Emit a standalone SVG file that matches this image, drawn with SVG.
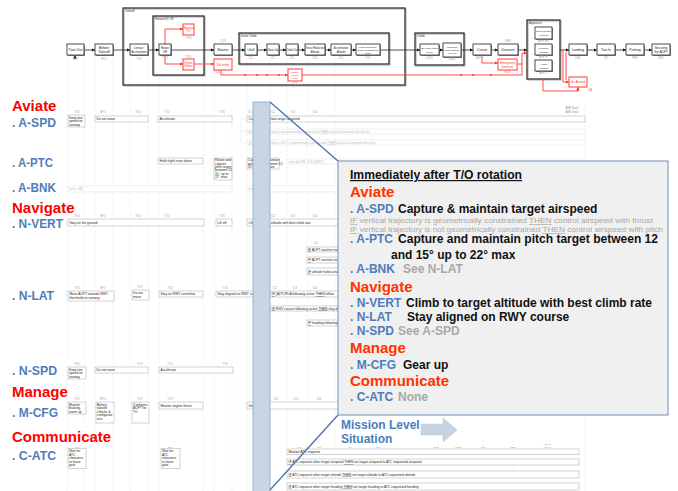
<svg xmlns="http://www.w3.org/2000/svg" width="678" height="491" viewBox="0 0 678 491">
<defs>
<style>
text{font-family:"Liberation Sans",Arial,sans-serif}
.sh{fill:#8a8a8a}
.bx{fill:#fff;stroke:#222;stroke-width:0.8}
.rb{fill:#fff;stroke:#ff3b3b;stroke-width:1}
.fr{fill:none;stroke:#333;stroke-width:1.3}
.frs{fill:none;stroke:#aaa;stroke-width:1}
.bt{font-size:3.6px;fill:#222;text-anchor:middle}
.bb{font-size:4.6px;fill:#111;text-anchor:middle;font-weight:bold}
.rt{font-size:3.6px;fill:#ff3030;text-anchor:middle}
.lb{font-size:2.8px;fill:#999;text-anchor:middle}
.lbs{font-size:2.4px;fill:#999;text-anchor:middle}
.fl{font-size:3px;fill:#333}
.grid{stroke:#dcdcdc;stroke-width:0.5;stroke-dasharray:2 2;fill:none}
.cb{fill:#fff;stroke:#b5b5b5;stroke-width:0.6}
.fb{fill:#fff;stroke:#dedede;stroke-width:0.5}
.ct{font-size:3.3px;fill:#222}
.cf{font-size:3.3px;fill:#bbb}
.blk{stroke:#222;stroke-width:0.8;fill:none}
.red{stroke:#ff4a4a;stroke-width:1;fill:none}
.cat{font-size:15px;font-weight:bold;fill:#ff0000}
.sub{font-size:13.5px;font-weight:bold;fill:#4f7cba}
.ccat{font-size:15px;font-weight:bold;fill:#ff3300}
.csub{font-size:12px;font-weight:bold;fill:#4f7cba}
.cmain{font-size:12px;font-weight:bold;fill:#111}
.cgray{font-size:12px;font-weight:bold;fill:#a8a8a8}
.cif{font-size:7px;fill:#a8a8a8}
</style>
<marker id="ab" viewBox="0 0 6 6" refX="6" refY="3" markerWidth="3.5" markerHeight="3.5" markerUnits="userSpaceOnUse" orient="auto"><path d="M0,0L6,3L0,6z" fill="#111"/></marker>
<marker id="ar" viewBox="0 0 6 6" refX="6" refY="3" markerWidth="3.5" markerHeight="3.5" markerUnits="userSpaceOnUse" orient="auto"><path d="M0,0L6,3L0,6z" fill="#ff3030"/></marker>
</defs>
<rect width="678" height="491" fill="#fff"/>

<g id="gridlines">
<path class="grid" d="M67,58V491M84,58V491M95,58V491M113,58V491M130,58V491M148,58V491M159,58V491M203,58V491M214,58V491M232,58V491M247,58V491M270,58V491M287,58V491M307,58V491M335,58V491M438,440V491M458,440V491M483,440V491M513,440V491M547,440V491M585,105V491"/>
</g>

<g id="frames">
<rect class="frs" x="124" y="9" width="282" height="77"/>
<rect class="fr" x="123" y="8" width="282" height="77"/>
<text class="fl" x="125" y="12">Takeoff</text>
<rect class="frs" x="154" y="17" width="51" height="59"/>
<rect class="fr" x="153" y="16" width="51" height="59"/>
<text class="fl" x="155" y="19.5">Rotate/Lift Off</text>
<rect class="frs" x="240" y="34" width="150" height="31"/>
<rect class="fr" x="239" y="33" width="150" height="31"/>
<text class="fl" x="241" y="36.5">Initial Climb</text>
<rect class="frs" x="416" y="34" width="49" height="32"/>
<rect class="fr" x="415" y="33" width="49" height="32"/>
<text class="fl" x="417" y="36.5">Climb</text>
<rect class="frs" x="528" y="21" width="33" height="59"/>
<rect class="fr" x="527" y="20" width="33" height="59"/>
<text class="fl" x="529" y="23.5">Approach</text>
</g>

<g id="flow-connectors">
<path class="blk" marker-end="url(#ab)" d="M84,50H95"/>
<path class="blk" marker-end="url(#ab)" d="M113,50H130"/>
<path class="blk" marker-end="url(#ab)" d="M148,50H159"/>
<path class="blk" marker-end="url(#ab)" d="M171,50H214"/>
<path class="blk" marker-end="url(#ab)" d="M232,50H245"/>
<path class="blk" marker-end="url(#ab)" d="M257,50H267"/>
<path class="blk" marker-end="url(#ab)" d="M279,50H286"/>
<path class="blk" marker-end="url(#ab)" d="M298,50H305"/>
<path class="blk" marker-end="url(#ab)" d="M325,50H331"/>
<path class="blk" marker-end="url(#ab)" d="M351,50H356"/>
<path class="blk" marker-end="url(#ab)" d="M380,50H420"/>
<path class="blk" marker-end="url(#ab)" d="M439,50H443"/>
<path class="blk" marker-end="url(#ab)" d="M461,50H473"/>
<path class="blk" marker-end="url(#ab)" d="M491,50H498"/>
<path class="blk" marker-end="url(#ab)" d="M518,50H527"/>
<path class="blk" marker-end="url(#ab)" d="M560,50H569"/>
<path class="blk" marker-end="url(#ab)" d="M587,50H597"/>
<path class="blk" marker-end="url(#ab)" d="M615,50H626"/>
<path class="blk" marker-end="url(#ab)" d="M644,50H652"/>
<path class="blk" marker-end="url(#ab)" d="M75,59V55"/>
<path class="red" marker-end="url(#ar)" d="M165,44V29H183"/>
<path class="red" marker-end="url(#ar)" d="M165,55V64H183"/>
<path class="red" marker-end="url(#ar)" d="M194,64H214"/>
<path class="red" marker-end="url(#ar)" d="M221,70V75H288"/>
<path class="red" marker-end="url(#ar)" d="M302,75H522V53H527"/>
<path class="red" marker-end="url(#ar)" d="M482,55V63H498"/>
<path class="red" d="M517,64H522"/>
<path class="red" marker-end="url(#ar)" d="M543,79V91H578V87"/>
<path class="red" marker-end="url(#ar)" d="M563,50V82H569"/>
<path class="red" d="M566,52V80"/>
<g fill="#ff3030"><circle cx="245" cy="75" r="0.9"/><circle cx="257" cy="75" r="0.9"/><circle cx="267" cy="75" r="0.9"/><circle cx="279" cy="75" r="0.9"/><circle cx="461" cy="75" r="0.9"/><circle cx="473" cy="75" r="0.9"/><circle cx="491" cy="75" r="0.9"/></g>
</g>

<g id="taxi-out"><rect class="sh" x="68" y="45" width="17" height="11"/><rect class="bx" x="67" y="44" width="17" height="11"/><text class="bb" x="75.5" y="51.3" style="font-size:3.8px;font-weight:normal">Taxi Out</text><text class="lb" x="75.5" y="60">TXO</text></g>
<g id="before-takeoff"><rect class="sh" x="96" y="45" width="18" height="11"/><rect class="bx" x="95" y="44" width="18" height="11"/><text class="bt" x="104" y="49">Before</text><text class="bt" x="104" y="53">Takeoff</text><text class="lb" x="104" y="60">BTO</text></g>
<g id="lineup"><rect class="sh" x="131" y="45" width="18" height="11"/><rect class="bx" x="130" y="44" width="18" height="11"/><text class="bt" x="139" y="49" style="font-size:2.8px">Lineup /</text><text class="bt" x="139" y="52.5" style="font-size:2.8px">Acceleration</text><text class="lb" x="139" y="60">TO1</text></g>
<g id="rotate"><rect class="sh" x="160" y="45" width="12" height="11"/><rect class="bx" x="159" y="44" width="12" height="11"/><text class="bt" x="165" y="49" style="font-size:2.8px">Rotate</text><text class="bt" x="165" y="52.5" style="font-size:2.8px">VR</text><text class="lb" x="165" y="58.5">TO2</text></g>
<g id="rejected-to"><rect class="rb" x="183" y="24" width="11" height="11"/><text class="rt" x="188.5" y="29" style="font-size:2.6px">Rejected</text><text class="rt" x="188.5" y="32" style="font-size:2.6px">T/O</text><text class="lb" x="188.5" y="39" fill="#f66">TO3</text></g>
<g id="engine-failure-to"><rect class="rb" x="183" y="59" width="11" height="11"/><text class="rt" x="188.5" y="64" style="font-size:2.6px">Engine</text><text class="rt" x="188.5" y="67" style="font-size:2.6px">Failure</text><text class="lb" x="188.5" y="57.5">TO4</text></g>
<g id="rotation"><rect class="sh" x="215" y="45" width="18" height="11"/><rect class="bx" x="214" y="44" width="18" height="11"/><text class="bt" x="223" y="51" style="font-size:3px">Rotation</text><text class="lb" x="223" y="42">TO5</text></g>
<g id="tail-strike"><rect class="rb" x="214" y="59" width="18" height="11"/><text class="rt" x="223" y="65.5" style="font-size:3px">Tail strike</text><text class="lb" x="217" y="73" style="fill:#f66">TO6</text></g>
<g id="liftoff"><rect class="sh" x="246" y="45" width="12" height="11"/><rect class="bx" x="245" y="44" width="12" height="11"/><text class="bt" x="251" y="51" style="font-size:2.8px">Liftoff</text><text class="lb" x="251" y="59">IC1</text></g>
<g id="gear-up"><rect class="sh" x="268" y="45" width="12" height="11"/><rect class="bx" x="267" y="44" width="12" height="11"/><text class="bt" x="273" y="51" style="font-size:2.8px">Gear Up</text><text class="lb" x="273" y="59">IC2</text></g>
<g id="climb-out"><rect class="sh" x="287" y="45" width="12" height="11"/><rect class="bx" x="286" y="44" width="12" height="11"/><text class="bt" x="292" y="51" style="font-size:2.6px">Climb Out</text><text class="lb" x="292" y="59">IC3</text></g>
<g id="thrust-red"><rect class="sh" x="306" y="45" width="20" height="11"/><rect class="bx" x="305" y="44" width="20" height="11"/><text class="bt" x="315" y="49" style="font-size:2.6px">Thrust Reduction</text><text class="bt" x="315" y="52.5" style="font-size:2.6px">Altitude</text><text class="lb" x="315" y="59">IC4</text></g>
<g id="accel-alt"><rect class="sh" x="332" y="45" width="20" height="11"/><rect class="bx" x="331" y="44" width="20" height="11"/><text class="bt" x="341" y="49" style="font-size:2.6px">Acceleration</text><text class="bt" x="341" y="52.5" style="font-size:2.6px">Altitude</text><text class="lb" x="341" y="59">IC5</text></g>
<g id="flaps"><rect class="sh" x="357" y="45" width="24" height="11"/><rect class="bx" x="356" y="44" width="24" height="11"/><text class="bt" x="368" y="48" style="font-size:2.5px">Flaps retraction /</text><text class="bt" x="368" y="51" style="font-size:2.5px">Clean configuration</text><text class="bt" x="368" y="54" style="font-size:2.5px">climb</text><text class="lb" x="368" y="59">IC6</text></g>
<g id="engine-failure-climb"><rect class="rb" x="288" y="69" width="14" height="12"/><text class="rt" x="295" y="72.5" style="font-size:2.4px">Engine</text><text class="rt" x="295" y="75.5" style="font-size:2.4px">Failure</text><text class="rt" x="295" y="78.5" style="font-size:2.4px">Climb</text><text class="lb" x="295" y="85" style="fill:#f66">IC7</text></g>
<g id="enroute-climb"><rect class="sh" x="421" y="45" width="19" height="11"/><rect class="bx" x="420" y="44" width="19" height="11"/><text class="bt" x="429.5" y="49" style="font-size:2.5px">En-route climb</text><text class="bt" x="429.5" y="52.5" style="font-size:2.5px">profile</text><text class="lb" x="429.5" y="59">CLB1</text></g>
<g id="level-off"><rect class="sh" x="444" y="44" width="18" height="14"/><rect class="bx" x="443" y="43" width="18" height="14"/><text class="bt" x="452" y="47.5" style="font-size:2.4px">Reaching</text><text class="bt" x="452" y="50.5" style="font-size:2.4px">cruise altitude</text><text class="bt" x="452" y="53.5" style="font-size:2.4px">level off</text><text class="lb" x="452" y="60">CLB2</text></g>
<g id="cruise"><rect class="sh" x="474" y="45" width="18" height="11"/><rect class="bx" x="473" y="44" width="18" height="11"/><text class="bt" x="482" y="51.3" style="font-size:3.6px">Cruise</text><text class="lb" x="478" y="59">CRZ</text></g>
<g id="descent"><rect class="sh" x="499" y="45" width="20" height="11"/><rect class="bx" x="498" y="44" width="20" height="11"/><text class="bt" x="508" y="51.3" style="font-size:3.6px">Descent</text><text class="lb" x="508" y="42">DES</text></g>
<g id="emergency-descent"><rect class="rb" x="498" y="59" width="19" height="11"/><text class="rt" x="507.5" y="63.8" style="font-size:3px">Emergency</text><text class="rt" x="507.5" y="67.5" style="font-size:3px">Descent</text><text class="lb" x="507.5" y="73" style="fill:#f66">EDS</text></g>
<g id="npa"><rect class="sh" x="536" y="28" width="17" height="12"/><rect class="bx" x="535" y="27" width="17" height="12"/><text class="bt" x="543.5" y="32" style="font-size:2.4px">Non Precision</text><text class="bt" x="543.5" y="35.5" style="font-size:2.4px">Approach</text><text class="lb" x="543.5" y="42">APP-NP</text></g>
<g id="pa"><rect class="sh" x="536" y="45" width="17" height="11"/><rect class="bx" x="535" y="44" width="17" height="11"/><text class="bt" x="543.5" y="49" style="font-size:2.4px">Precision</text><text class="bt" x="543.5" y="52.5" style="font-size:2.4px">Approach</text><text class="lb" x="543.5" y="58">APP-P</text></g>
<g id="other-app"><rect class="sh" x="536" y="61" width="17" height="11"/><rect class="bx" x="535" y="60" width="17" height="11"/><text class="bt" x="543.5" y="65" style="font-size:2.4px">+ Other</text><text class="bt" x="543.5" y="68.5" style="font-size:2.4px">Approach</text><text class="lb" x="543.5" y="74">APP-O</text></g>
<g id="landing"><rect class="sh" x="570" y="45" width="18" height="11"/><rect class="bx" x="569" y="44" width="18" height="11"/><text class="bt" x="578" y="51.3" style="font-size:3.4px">Landing</text><text class="lb" x="578" y="58.5">LND</text></g>
<g id="taxi-in"><rect class="sh" x="598" y="45" width="18" height="11"/><rect class="bx" x="597" y="44" width="18" height="11"/><text class="bt" x="606" y="51.3" style="font-size:3.4px">Taxi In</text><text class="lb" x="606" y="58.5">TXI</text></g>
<g id="parking"><rect class="sh" x="627" y="45" width="18" height="11"/><rect class="bx" x="626" y="44" width="18" height="11"/><text class="bt" x="635" y="51.3" style="font-size:3.4px">Parking</text><text class="lb" x="635" y="58.5">PRK</text></g>
<g id="securing"><rect class="sh" x="653" y="45" width="18" height="11"/><rect class="bx" x="652" y="44" width="18" height="11"/><text class="bt" x="661" y="49" style="font-size:3.2px">Securing</text><text class="bt" x="661" y="53" style="font-size:3.2px">the ACFT</text><text class="lb" x="661" y="58.5">SEC</text></g>
<g id="go-around"><rect class="rb" x="569" y="77" width="18" height="10"/><text class="rt" x="578" y="83.3" style="font-size:3px">Go-Around</text><text class="lb" x="590" y="91" style="fill:#f66">GA</text></g>

<g id="row-labels">
<text class="cat" x="12" y="111">Aviate</text>
<text class="sub" x="12" y="127" textLength="44" lengthAdjust="spacingAndGlyphs">. A-SPD</text>
<text class="sub" x="12" y="167" textLength="41" lengthAdjust="spacingAndGlyphs">. A-PTC</text>
<text class="sub" x="12" y="192" textLength="44" lengthAdjust="spacingAndGlyphs">. A-BNK</text>
<text class="cat" x="12" y="213">Navigate</text>
<text class="sub" x="12" y="228" textLength="51" lengthAdjust="spacingAndGlyphs">. N-VERT</text>
<text class="sub" x="12" y="300" textLength="42" lengthAdjust="spacingAndGlyphs">. N-LAT</text>
<text class="sub" x="12" y="375" textLength="45" lengthAdjust="spacingAndGlyphs">. N-SPD</text>
<text class="cat" x="12" y="397">Manage</text>
<text class="sub" x="12" y="417" textLength="46" lengthAdjust="spacingAndGlyphs">. M-CFG</text>
<text class="cat" x="12" y="442">Communicate</text>
<text class="sub" x="12" y="460" textLength="44" lengthAdjust="spacingAndGlyphs">. C-ATC</text>
</g>

<g id="chart-labels">
<text class="lb" x="77" y="113">TXO</text><text class="lb" x="103" y="113">BTO</text><text class="lb" x="138" y="113">TO1</text><text class="lb" x="167" y="113">TO2</text><text class="lb" x="222" y="113">TO5</text><text class="lb" x="250" y="113">IC1</text><text class="lb" x="273" y="113">IC2</text><text class="lb" x="293" y="113">IC3</text><text class="lb" x="315" y="113">IC4</text>
<text class="lb" x="572" y="109">ABR-Sep1</text><text class="lb" x="572" y="112.5">ABR-Sep2</text>
<text class="lb" x="77" y="217">TXO</text><text class="lb" x="103" y="217">BTO</text><text class="lb" x="138" y="217">TO1</text><text class="lb" x="167" y="217">TO2</text><text class="lb" x="222" y="217">TO5</text><text class="lb" x="273" y="217">IC2</text><text class="lb" x="293" y="217">IC3</text><text class="lb" x="315" y="217">IC4</text>
<text class="lb" x="316" y="244">IC4</text>
<text class="lb" x="77" y="289">TXO</text><text class="lb" x="103" y="289">BTO</text><text class="lb" x="140" y="288">TO1</text><text class="lb" x="170" y="289">TO2</text><text class="lb" x="225" y="289">TO5</text><text class="lb" x="275" y="289">IC2</text><text class="lb" x="295" y="289">IC3</text><text class="lb" x="315" y="289">IC4</text>
<text class="lb" x="77" y="365">TXO</text><text class="lb" x="140" y="365">TO1</text><text class="lb" x="170" y="365">TO2</text><text class="lb" x="225" y="365">TO5</text>
<text class="lb" x="77" y="400">TXO</text><text class="lb" x="103" y="400">BTO</text><text class="lb" x="140" y="400">TO1</text><text class="lb" x="170" y="400">TO2</text><text class="lb" x="276" y="400">IC2</text><text class="lb" x="296" y="400">IC3</text><text class="lb" x="319" y="400">IC4</text>
<text class="lbs" x="77" y="448">TXO</text><text class="lbs" x="170" y="448">TO2</text>
<text class="lbs" x="299" y="448.4">IC2</text><text class="lbs" x="319" y="448.4">IC3</text><text class="lbs" x="350" y="448.4">IC4</text><text class="lbs" x="378" y="448.4">IC5</text><text class="lbs" x="436" y="448.4">CLB1</text><text class="lbs" x="458" y="448.4">CLB2</text><text class="lbs" x="483" y="448.4">CRZ</text><text class="lbs" x="513" y="448.4">DES</text><text class="lbs" x="547" y="445.4">APP-NP</text><text class="lbs" x="547" y="448.4">APP-P</text>
</g>

<g id="aspd-row">
<rect class="cb" x="68" y="115" width="17" height="12"/><text class="ct" x="69" y="118.5"><tspan x="69">Keep low</tspan><tspan x="69" dy="3.5">speed on</tspan><tspan x="69" dy="3.5">taxiway</tspan></text>
<rect class="cb" x="95" y="116" width="53" height="6"/><text class="ct" x="96.5" y="120">Do not move</text>
<rect class="cb" x="158" y="116" width="74" height="6"/><text class="ct" x="159.5" y="120">Accelerate</text>
<rect class="cb" x="247" y="116" width="338" height="6"/><text class="ct" x="248.5" y="120">Capture &amp; maintain target airspeed</text>
<path d="M247,119H241V143H247M241,131H247" stroke="#e0e0e0" stroke-width="0.5" fill="none"/>
<rect class="fb" x="247" y="129" width="338" height="5"/><text class="cf" x="248.5" y="132.5"><tspan text-decoration="underline">IF</tspan> vertical trajectory is geometrically constrained <tspan text-decoration="underline">THEN</tspan> control airspeed with thrust</text>
<rect class="fb" x="247" y="140" width="338" height="5"/><text class="cf" x="248.5" y="143.5"><tspan text-decoration="underline">IF</tspan> vertical trajectory is NOT geometrically constrained <tspan text-decoration="underline">THEN</tspan> control airspeed with pitch</text>
</g>

<g id="aptc-row">
<rect class="cb" x="158" y="158" width="45" height="6"/><text class="ct" x="159.5" y="162">Hold slight nose down</text>
<rect class="cb" x="214" y="158" width="18" height="22"/><text class="ct" x="215" y="161.3"><tspan x="215">Rotate and</tspan><tspan x="215" dy="3.3">capture</tspan><tspan x="215" dy="3.3">pitch target</tspan><tspan x="215" dy="3.3">between 12</tspan><tspan x="215" dy="3.3">15° up to</tspan><tspan x="215" dy="3.3">22° max</tspan></text>
<rect class="cb" x="247" y="158" width="32" height="11"/><text class="ct" x="248" y="161.3"><tspan x="248">Capture and maintain</tspan><tspan x="248" dy="3.3">pitch target between 12</tspan><tspan x="248" dy="3.3">15° up to 22° max</tspan></text>
<rect class="fb" x="287" y="159" width="298" height="5"/><text class="cf" x="289" y="162.6">(see A-SPD &amp; N-VERT)</text>
</g>

<g id="abnk-row">
<rect class="fb" x="68" y="186" width="164" height="6"/><text class="cf" x="69.5" y="190">(see LAT)</text>
<rect class="fb" x="247" y="186" width="338" height="6"/><text class="cf" x="248.5" y="190">(see LAT)</text>
</g>

<g id="nvert-row">
<rect class="cb" x="68" y="219" width="136" height="7"/><text class="ct" x="69.5" y="223.5">Stay on the ground</text>
<rect class="cb" x="216" y="219" width="16" height="7"/><text class="ct" x="217.5" y="223.5">Lift off</text>
<rect class="cb" x="247" y="219" width="338" height="7"/><text class="ct" x="248.5" y="223.5">Climb to target altitude with best climb rate</text>
<rect class="cb" x="307" y="247" width="50" height="5"/><text class="ct" x="308" y="250.5"><tspan text-decoration="underline">IF</tspan> ACFT reaches target altitude</text>
<rect class="cb" x="307" y="257" width="50" height="6"/><text class="ct" x="308" y="261"><tspan text-decoration="underline">IF</tspan> ACFT reaches target speed</text>
<rect class="cb" x="307" y="268" width="50" height="7"/><text class="ct" x="308" y="272.5"><tspan text-decoration="underline">IF</tspan> altitude hold active</text>
</g>

<g id="nlat-row">
<rect class="cb" x="68" y="291" width="46" height="10"/><text class="ct" x="69.5" y="295"><tspan x="69.5">Move ACFT towards RWY</tspan><tspan x="69.5" dy="3.5">threshold on taxiway</tspan></text>
<rect class="cb" x="132" y="290" width="17" height="10"/><text class="ct" x="133" y="294"><tspan x="133">Do not</tspan><tspan x="133" dy="3.5">move</tspan></text>
<rect class="cb" x="159" y="291" width="44" height="6"/><text class="ct" x="160.5" y="295">Stay on RWY centerline</text>
<rect class="cb" x="216" y="291" width="40" height="6"/><text class="ct" x="217.5" y="295">Stay aligned on RWY course</text>
<rect class="cb" x="271" y="291" width="80" height="6"/><text class="ct" x="272" y="295"><tspan text-decoration="underline">IF</tspan> (A)TC/FLA following active <tspan text-decoration="underline">THEN</tspan> follow</text>
<rect class="cb" x="271" y="306" width="80" height="5"/><text class="ct" x="272" y="309.6"><tspan text-decoration="underline">IF</tspan> RWY course following active <tspan text-decoration="underline">THEN</tspan> stay aligned</text>
<rect class="cb" x="307" y="320" width="50" height="6"/><text class="ct" x="308" y="324"><tspan text-decoration="underline">IF</tspan> heading following active</text>
</g>

<g id="nspd-row">
<rect class="cb" x="68" y="367" width="18" height="12"/><text class="ct" x="69" y="370.5"><tspan x="69">Keep low</tspan><tspan x="69" dy="3.5">speed on</tspan><tspan x="69" dy="3.5">taxiway</tspan></text>
<rect class="cb" x="95" y="367" width="53" height="6"/><text class="ct" x="96.5" y="371">Do not move</text>
<rect class="cb" x="159" y="367" width="74" height="6"/><text class="ct" x="160.5" y="371">Accelerate</text>
</g>

<g id="mcfg-row">
<rect class="cb" x="68" y="402" width="18" height="12"/><text class="ct" x="69" y="405.5"><tspan x="69">Monitor</tspan><tspan x="69" dy="3.5">braking,</tspan><tspan x="69" dy="3.5">warm up</tspan></text>
<rect class="cb" x="96" y="402" width="18" height="21"/><text class="ct" x="97" y="405.5"><tspan x="97">Before</tspan><tspan x="97" dy="3.5">takeoff</tspan><tspan x="97" dy="3.5">checks &amp;</tspan><tspan x="97" dy="3.5">configurati</tspan><tspan x="97" dy="3.5">ons</tspan></text>
<rect class="cb" x="132" y="402" width="17" height="21"/><text class="ct" x="133" y="405.5"><tspan x="133">Configure</tspan><tspan x="133" dy="3.5">ACFT for</tspan><tspan x="133" dy="3.5">TO</tspan></text>
<rect class="cb" x="159" y="402" width="44" height="7"/><text class="ct" x="160.5" y="406.5">Monitor engine thrust</text>
<rect class="cb" x="247" y="402" width="338" height="7"/><text class="ct" x="248.5" y="406.5">Gear up</text>
</g>

<g id="catc-row">
<rect class="cb" x="68" y="448.5" width="18" height="20"/><text class="ct" x="69" y="452"><tspan x="69">Wait for</tspan><tspan x="69" dy="3.5">ATC</tspan><tspan x="69" dy="3.5">clearance</tspan><tspan x="69" dy="3.5">to leave</tspan><tspan x="69" dy="3.5">gate</tspan></text>
<rect class="cb" x="161" y="448.5" width="19" height="20"/><text class="ct" x="162" y="452"><tspan x="162">Wait for</tspan><tspan x="162" dy="3.5">ATC</tspan><tspan x="162" dy="3.5">clearance</tspan><tspan x="162" dy="3.5">to leave</tspan><tspan x="162" dy="3.5">gate</tspan></text>
<rect class="cb" x="287" y="449" width="292" height="5.5"/><text class="ct" x="288.5" y="452.8">Monitor ATC requests</text>
<rect class="cb" x="287" y="459" width="292" height="6"/><text class="ct" x="288.5" y="463"><tspan text-decoration="underline">IF</tspan> ATC requests other target airspeed <tspan text-decoration="underline">THEN</tspan> set target airspeed to ATC requested airspeed</text>
<rect class="cb" x="287" y="471" width="292" height="7"/><text class="ct" x="288.5" y="475.5"><tspan text-decoration="underline">IF</tspan> ATC requests other target altitude <tspan text-decoration="underline">THEN</tspan> set target altitude to ATC requested altitude</text>
<rect class="cb" x="287" y="483" width="292" height="7"/><text class="ct" x="288.5" y="487.5"><tspan text-decoration="underline">IF</tspan> ATC requests other target heading <tspan text-decoration="underline">THEN</tspan> set target heading to ATC requested heading</text>
</g>

<g id="time-pillar">
<rect x="253" y="102" width="17" height="390" fill="#c7d5e5" stroke="#8ba6c6" stroke-width="0.8"/>
</g>

<g id="callout">
<path d="M270,102L338,161M270,490L338,415" stroke="#4a72aa" stroke-width="1.3" fill="none"/>
<rect x="338" y="161" width="330" height="254" fill="#f0f0f0" stroke="#6f8fb8" stroke-width="1"/>
<text x="350" y="179" class="cmain" text-decoration="underline" textLength="172" lengthAdjust="spacingAndGlyphs">Immediately after T/O rotation</text>
<text class="ccat" x="350" y="197">Aviate</text>
<text class="csub" x="350" y="213">. A-SPD</text><text class="cmain" x="398" y="213">Capture &amp; maintain target airspeed</text>
<text class="cif" x="350" y="223" textLength="303" lengthAdjust="spacingAndGlyphs"><tspan text-decoration="underline">IF</tspan> vertical trajectory is geometrically constrained <tspan text-decoration="underline">THEN</tspan> control airspeed with thrust</text>
<text class="cif" x="350" y="232" textLength="313" lengthAdjust="spacingAndGlyphs"><tspan text-decoration="underline">IF</tspan> vertical trajectory is not geometrically constrained <tspan text-decoration="underline">THEN</tspan> control airspeed with pitch</text>
<text class="csub" x="350" y="243">. A-PTC</text><text class="cmain" x="398" y="243" textLength="260" lengthAdjust="spacingAndGlyphs">Capture and maintain pitch target between 12</text>
<text class="cmain" x="391" y="259">and 15° up to 22° max</text>
<text class="csub" x="350" y="273">. A-BNK</text><text class="cgray" x="403" y="273">See N-LAT</text>
<text class="ccat" x="350" y="292">Navigate</text>
<text class="csub" x="350" y="307">. N-VERT</text><text class="cmain" x="406" y="307">Climb to target altitude with best climb rate</text>
<text class="csub" x="350" y="321">. N-LAT</text><text class="cmain" x="407" y="321">Stay aligned on RWY course</text>
<text class="csub" x="350" y="335">. N-SPD</text><text class="cgray" x="398" y="335">See A-SPD</text>
<text class="ccat" x="350" y="353">Manage</text>
<text class="csub" x="350" y="369">. M-CFG</text><text class="cmain" x="403" y="369">Gear up</text>
<text class="ccat" x="350" y="386">Communicate</text>
<text class="csub" x="350" y="401">. C-ATC</text><text class="cgray" x="398" y="401">None</text>
</g>

<g id="mission-level">
<text x="341" y="429" style="font-size:12px;font-weight:bold;fill:#4a7ebb">Mission Level</text>
<text x="341" y="442.5" style="font-size:12px;font-weight:bold;fill:#4a7ebb">Situation</text>
<polygon points="421,424 443,424 443,418 457,430 443,442 443,435 421,435" fill="#c5d3e3" stroke="#b3c4d8" stroke-width="0.5"/>
</g>
</svg>
